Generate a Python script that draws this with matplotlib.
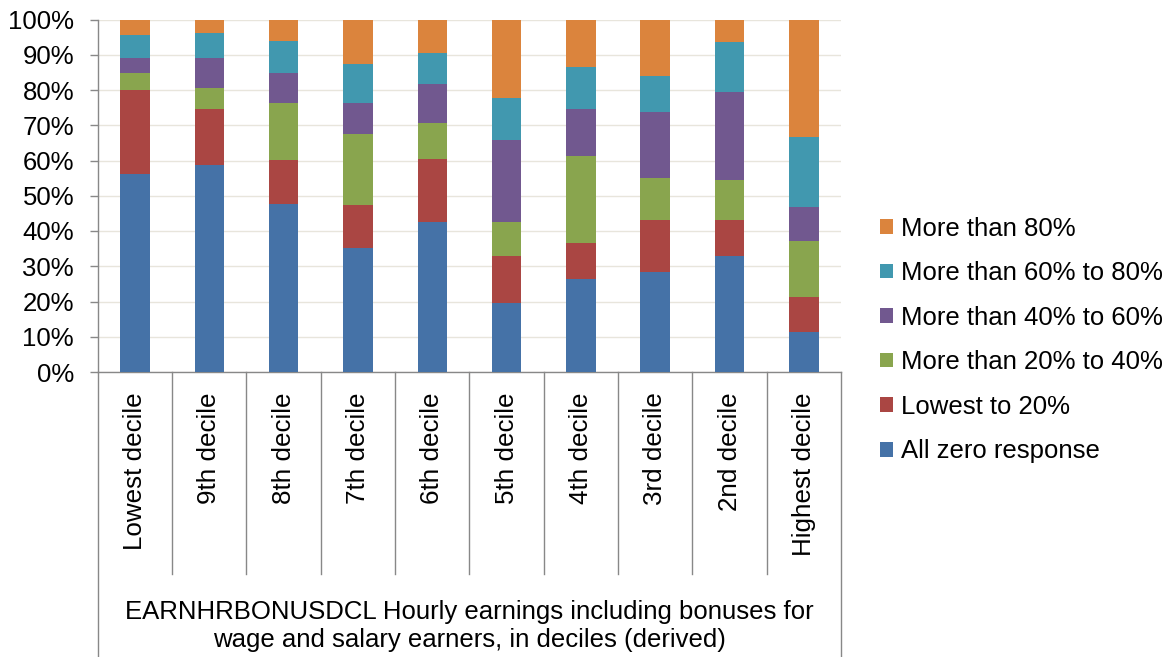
import matplotlib
matplotlib.use("Agg")
import matplotlib.pyplot as plt
from matplotlib.patches import Patch
import numpy as np

plt.rcParams['font.family'] = ['Liberation Sans', 'DejaVu Sans']

categories = ["Lowest decile", "9th decile", "8th decile", "7th decile", "6th decile",
              "5th decile", "4th decile", "3rd decile", "2nd decile", "Highest decile"]

series_names = ["All zero response", "Lowest to 20%", "More than 20% to 40%",
                "More than 40% to 60%", "More than 60% to 80%", "More than 80%"]

all_zero   = [56.3, 58.8, 47.8, 35.1, 42.6, 19.5, 26.3, 28.4, 32.9, 11.4]
lowest_20  = [23.6, 15.9, 12.4, 12.4, 17.9, 13.5, 10.2, 14.8, 10.3,  9.9]
pct_20_40  = [ 4.8,  6.0, 16.2, 20.1, 10.0,  9.6, 24.8, 11.7, 11.3, 15.9]
pct_40_60  = [ 4.5,  8.5,  8.3,  8.6, 11.3, 23.3, 13.2, 18.8, 24.9,  9.5]
pct_60_80  = [ 6.4,  7.1,  9.2, 11.3,  8.8, 11.7, 11.9, 10.2, 14.2, 19.9]
more_80    = [ 4.4,  3.7,  6.1, 12.5,  9.4, 22.4, 13.6, 16.1,  6.4, 33.4]

colors = ["#4572A7", "#AA4643", "#89A54E", "#71588F", "#4198AF", "#DB843D"]

axis_title = ("EARNHRBONUSDCL Hourly earnings including bonuses for\n"
              "wage and salary earners, in deciles (derived)")

W, H = 1168, 657
fig = plt.figure(figsize=(W / 100, H / 100), dpi=100)
left_px, right_px, top_px, bot_px = 97.7, 841, 19.5, 372
ax = fig.add_axes([left_px / W, 1 - bot_px / H, (right_px - left_px) / W, (bot_px - top_px) / H])

series = [all_zero, lowest_20, pct_20_40, pct_40_60, pct_60_80, more_80]
x = np.arange(len(categories))
bottom = np.zeros(len(categories))
for vals, name, c in zip(series, series_names, colors):
    v = np.array(vals, dtype=float)
    ax.bar(x, v, 0.395, bottom=bottom, color=c, label=name, zorder=3)
    bottom += v

ax.set_xlim(-0.5, len(categories) - 0.5)
ax.set_ylim(0, 100)
ax.set_yticks(np.arange(0, 101, 10))
ax.set_yticklabels([f"{t}%" for t in range(0, 101, 10)], fontsize=18.5)
ax.tick_params(axis='y', length=6, width=1, color='#888888', pad=11)
ax.set_xticks([])
ax.grid(axis='y', color='#e8e5dc', linewidth=1, zorder=0)
for s in ['top', 'right']:
    ax.spines[s].set_visible(False)
for s in ['left', 'bottom']:
    ax.spines[s].set_color('#888888')
    ax.spines[s].set_linewidth(1)

axh = bot_px - top_px
trans = ax.get_xaxis_transform()
# category separators
for b in np.arange(0.5, len(categories) - 1, 1.0):
    ax.plot([b, b], [0, -(574 - bot_px) / axh], transform=trans, color='#888888',
            lw=1, clip_on=False)
# outer box lines
for b in [-0.5, len(categories) - 0.5]:
    ax.plot([b, b], [0, -(H + 5 - bot_px) / axh], transform=trans, color='#888888',
            lw=1, clip_on=False)

for i, lab in enumerate(categories):
    ax.text(i, -(392 - bot_px) / axh, lab, rotation=90, ha='center', va='top',
            fontsize=18.7, transform=trans)

ax.text((len(categories) - 1) / 2, -(626 - bot_px) / axh, axis_title, ha='center',
        va='center', fontsize=18.5, transform=trans, linespacing=1.25)

handles = [Patch(facecolor=c, label=n) for c, n in zip(colors, series_names)][::-1]
fig.legend(handles=handles, loc='center left',
           bbox_to_anchor=(880 / W, 1 - 340 / H), frameon=False, fontsize=18.5,
           handlelength=0.5, handleheight=0.5, handletextpad=0.3, labelspacing=0.8,
           borderpad=0, borderaxespad=0)

fig.savefig("out.png", dpi=100)
